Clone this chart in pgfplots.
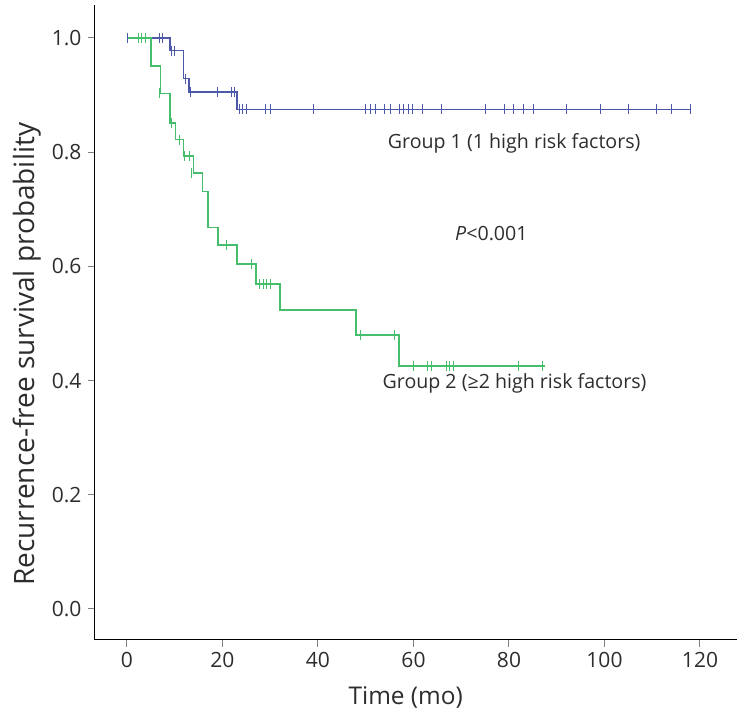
\documentclass[border=0pt]{standalone}
\usepackage{fontspec}
\setmainfont{Open Sans}
\usepackage{pgfplots}
\pgfplotsset{compat=1.18}
\definecolor{g1}{RGB}{76,88,168}
\definecolor{g2}{RGB}{70,190,108}
\definecolor{txt}{RGB}{45,45,45}
\begin{document}
\begin{tikzpicture}
\useasboundingbox (-95pt,-85pt) rectangle (644pt,640pt);
\begin{axis}[
  scale only axis, width=642pt, height=635pt,
  xmin=-6.7, xmax=127.75, ymin=-0.0543, ymax=1.0578,
  axis x line*=bottom, axis y line*=left,
  axis line style={black, line width=1pt, -},
  tick align=outside, major tick length=7pt,
  tick style={gray, line width=1pt},
  xtick={0,20,40,60,80,100,120}, ytick={0,0.2,0.4,0.6,0.8,1.0},
  yticklabel style={xshift=-3pt, /pgf/number format/.cd, fixed, fixed zerofill, precision=1},
  /pgf/number format/assume math mode=true,
  ticklabel style={font=\fontsize{21}{23}\selectfont, text=txt},
  xticklabel style={yshift=-2pt},
  xlabel={Time (mo)}, ylabel={Recurrence-free survival probability},
  x label style={font=\fontsize{24.4}{26}\selectfont, text=txt, at={(axis description cs:0.484,-0.09)}, anchor=center},
  y label style={font=\fontsize{28}{30}\selectfont, text=txt, at={(axis description cs:-0.106,0.45)}, anchor=center},
  clip=false,
]
% Group 1 curve
\addplot[const plot, g1, line width=1.6pt] coordinates {
(0,1.0) (9,0.978) (11.8,0.929) (13,0.905) (23,0.875) (118,0.875)};
\addplot[only marks, mark=|, mark size=5pt, g1, mark options={line width=0.9pt}] coordinates {
(0,1.0) (6.8,1.0) (7.4,1.0) (9.3,0.978) (9.9,0.978) (12.2,0.929) (13.2,0.905)
(19,0.905) (21.9,0.905) (22.4,0.905)
(23.5,0.875) (24.2,0.875) (25.1,0.875) (29.1,0.875) (30,0.875) (39,0.875)
(49.9,0.875) (50.9,0.875) (52.1,0.875) (54,0.875) (55.1,0.875) (57,0.875)
(57.9,0.875) (58.9,0.875) (59.8,0.875) (61.9,0.875) (65.9,0.875) (75,0.875)
(79,0.875) (80.9,0.875) (83,0.875) (85.1,0.875) (92.1,0.875) (99.1,0.875)
(105,0.875) (110.9,0.875) (114.1,0.875) (118,0.875)};
% Group 2 curve
\addplot[const plot, g2, line width=1.6pt] coordinates {
(0,1.0) (5,0.951) (7,0.903) (9,0.851) (10.2,0.822) (11.8,0.793) (13.9,0.764)
(15.8,0.731) (17,0.668) (19.1,0.637) (23,0.604) (27,0.569) (32,0.524)
(48,0.480) (57,0.426) (87.5,0.426)};
\addplot[only marks, mark=|, mark size=5pt, g2, mark options={line width=0.9pt}] coordinates {
(2.4,1.0) (3.1,1.0) (3.8,1.0) (6.8,0.903) (9.4,0.851) (11,0.822)
(12.1,0.793) (13,0.793) (13.5,0.764) (20.9,0.637) (26,0.604)
(27.8,0.569) (28.5,0.569) (29.3,0.569) (30,0.569)
(48.8,0.480) (56.1,0.480)
(60,0.426) (63,0.426) (63.7,0.426) (67,0.426) (67.6,0.426) (68.4,0.426)
(82,0.426) (87,0.426)};
\node[anchor=west, text=txt, font=\fontsize{19.6}{22}\selectfont, inner sep=0pt] at (axis cs:54.6,0.816) {Group 1 (1 high risk factors)};
\node[anchor=west, text=txt, font=\fontsize{19.6}{22}\selectfont, inner sep=0pt] at (axis cs:68.7,0.658) {\textit{P}<0.001};
\node[anchor=west, text=txt, font=\fontsize{19.6}{22}\selectfont, inner sep=0pt] at (axis cs:53.5,0.396) {Group 2 (≥2 high risk factors)};
\end{axis}
\end{tikzpicture}
\end{document}
